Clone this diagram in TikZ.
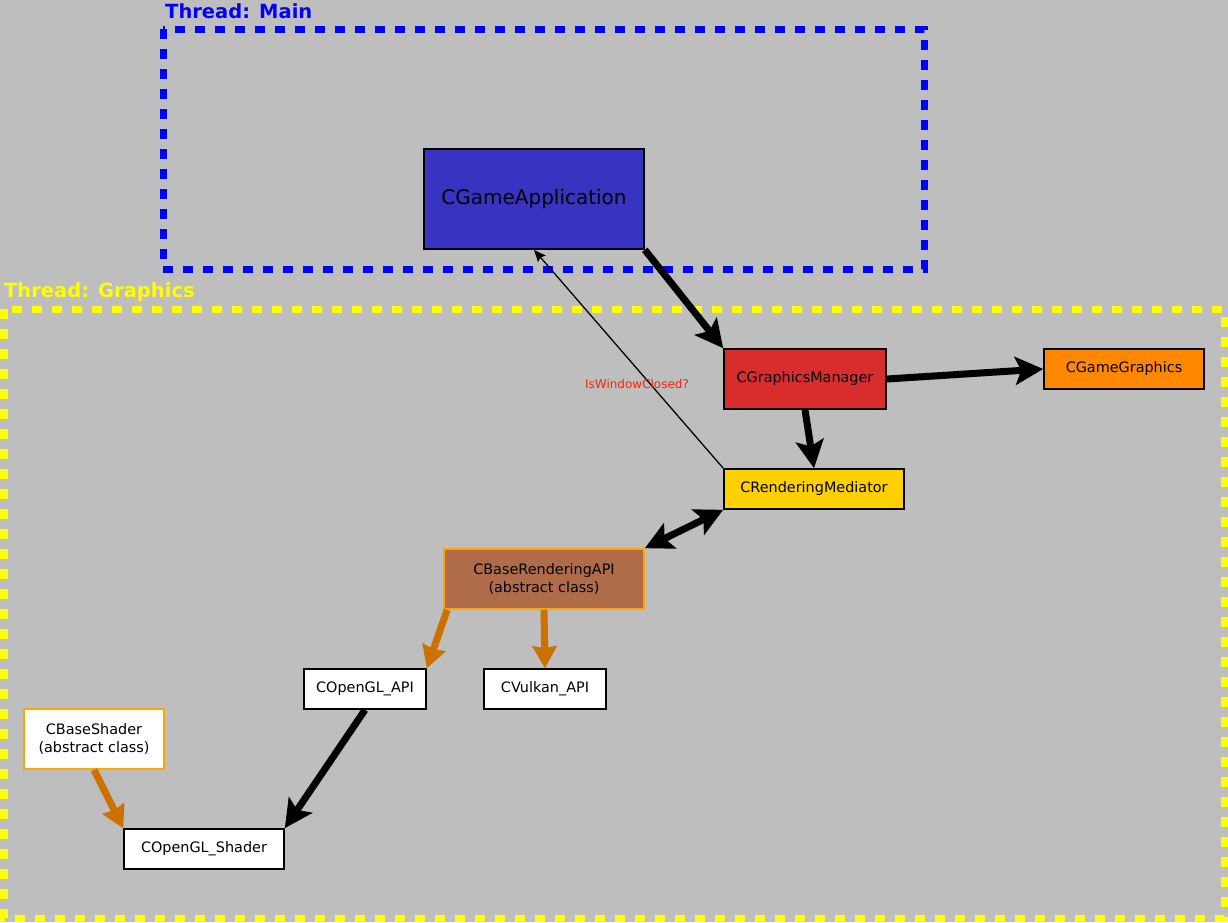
\documentclass[tikz,border=0pt]{standalone}
\usepackage{fontspec}
\setmainfont{DejaVu Sans}
\usetikzlibrary{arrows.meta}
\definecolor{bggray}{RGB}{190,190,190}
\definecolor{appblue}{RGB}{57,51,193}
\definecolor{mgrred}{RGB}{217,45,45}
\definecolor{ggorange}{RGB}{255,136,0}
\definecolor{medgold}{RGB}{255,208,0}
\definecolor{apibrown}{RGB}{176,107,72}
\definecolor{bordorange}{RGB}{255,165,0}
\definecolor{edgeorange}{RGB}{204,112,0}
\definecolor{lblred}{RGB}{255,32,0}
\definecolor{clblue}{RGB}{0,0,255}
\definecolor{clyellow}{RGB}{255,255,0}
\begin{document}
\begin{tikzpicture}[x=1pt,y=-1pt,
  box/.style={draw=black, line width=1.6pt, inner sep=0pt, align=center,
    font=\fontsize{14.4}{18}\selectfont},
  cluster/.style={line width=7pt, dash pattern=on 10pt off 10pt},
  clabel/.style={anchor=base west, inner sep=0pt, font=\fontsize{19.5}{22}\selectfont\bfseries},
  bigarrow/.style={line width=7pt, -{Stealth[length=28pt,width=28pt,inset=6pt]}},
  orarrow/.style={line width=7pt, draw=edgeorange, fill=edgeorange, -{Stealth[length=22pt,width=24pt,inset=2pt]}},
  dblarrow/.style={line width=7pt, {Stealth[length=28pt,width=28pt,inset=6pt]}-{Stealth[length=28pt,width=28pt,inset=6pt]}},
  thinarrow/.style={line width=1.3pt, -{Stealth[length=12pt,width=10pt,inset=2pt]}}
]
\fill[bggray] (0,0) rectangle (1228,922);
\useasboundingbox (0,0) rectangle (1228,922);

% clusters
\draw[cluster, draw=clblue] (163,29) rectangle (924,269);
\node[clabel, text=clblue] (tmain) at (165,18) {Thread: Main};
\draw[cluster, draw=clyellow] (4,309) rectangle (1224,918);
\node[clabel, text=clyellow] (tgfx) at (4,297) {Thread: Graphics};

% nodes
\node[box, fill=appblue, minimum width=220pt, minimum height=100pt,
  font=\fontsize{20}{24}\selectfont] (app) at (534,199) {CGameApplication};
\node[box, fill=mgrred, minimum width=162pt, minimum height=60pt] (gm) at (805,379) {CGraphicsManager};
\node[box, fill=ggorange, minimum width=160pt, minimum height=40pt] (gg) at (1124,369) {CGameGraphics};
\node[box, fill=medgold, minimum width=180pt, minimum height=40pt] (rm) at (814,489) {CRenderingMediator};
\node[box, fill=apibrown, draw=bordorange, minimum width=200pt, minimum height=60pt] (bra) at (544,579) {CBaseRenderingAPI\\(abstract class)};
\node[box, fill=white, minimum width=122pt, minimum height=40pt] (ogl) at (365,689) {COpenGL\_API};
\node[box, fill=white, minimum width=122pt, minimum height=40pt] (vk) at (545,689) {CVulkan\_API};
\node[box, fill=white, draw=bordorange, minimum width=140pt, minimum height=60pt] (bs) at (94,739) {CBaseShader\\(abstract class)};
\node[box, fill=white, minimum width=160pt, minimum height=40pt] (ogs) at (204,849) {COpenGL\_Shader};

% edges
\draw[bigarrow] (app.south east) -- (gm.north west);
\draw[bigarrow] (gm.east) -- (gg.west);
\draw[bigarrow] (gm.south) -- (rm.north);
\draw[dblarrow] (rm.south west) -- (bra.north east);
\draw[thinarrow] (rm.north west) -- (app.south);
\node[text=lblred, font=\fontsize{12}{14}\selectfont, inner sep=0pt] (lbl) at (637,384) {IsWindowClosed?};
\draw[orarrow] ([xshift=4pt]bra.south west) -- (ogl.north east);
\draw[orarrow] (bra.south) -- (vk.north);
\draw[bigarrow] (ogl.south) -- (ogs.north east);
\draw[orarrow] (bs.south) -- (ogs.north west);
\end{tikzpicture}
\end{document}
